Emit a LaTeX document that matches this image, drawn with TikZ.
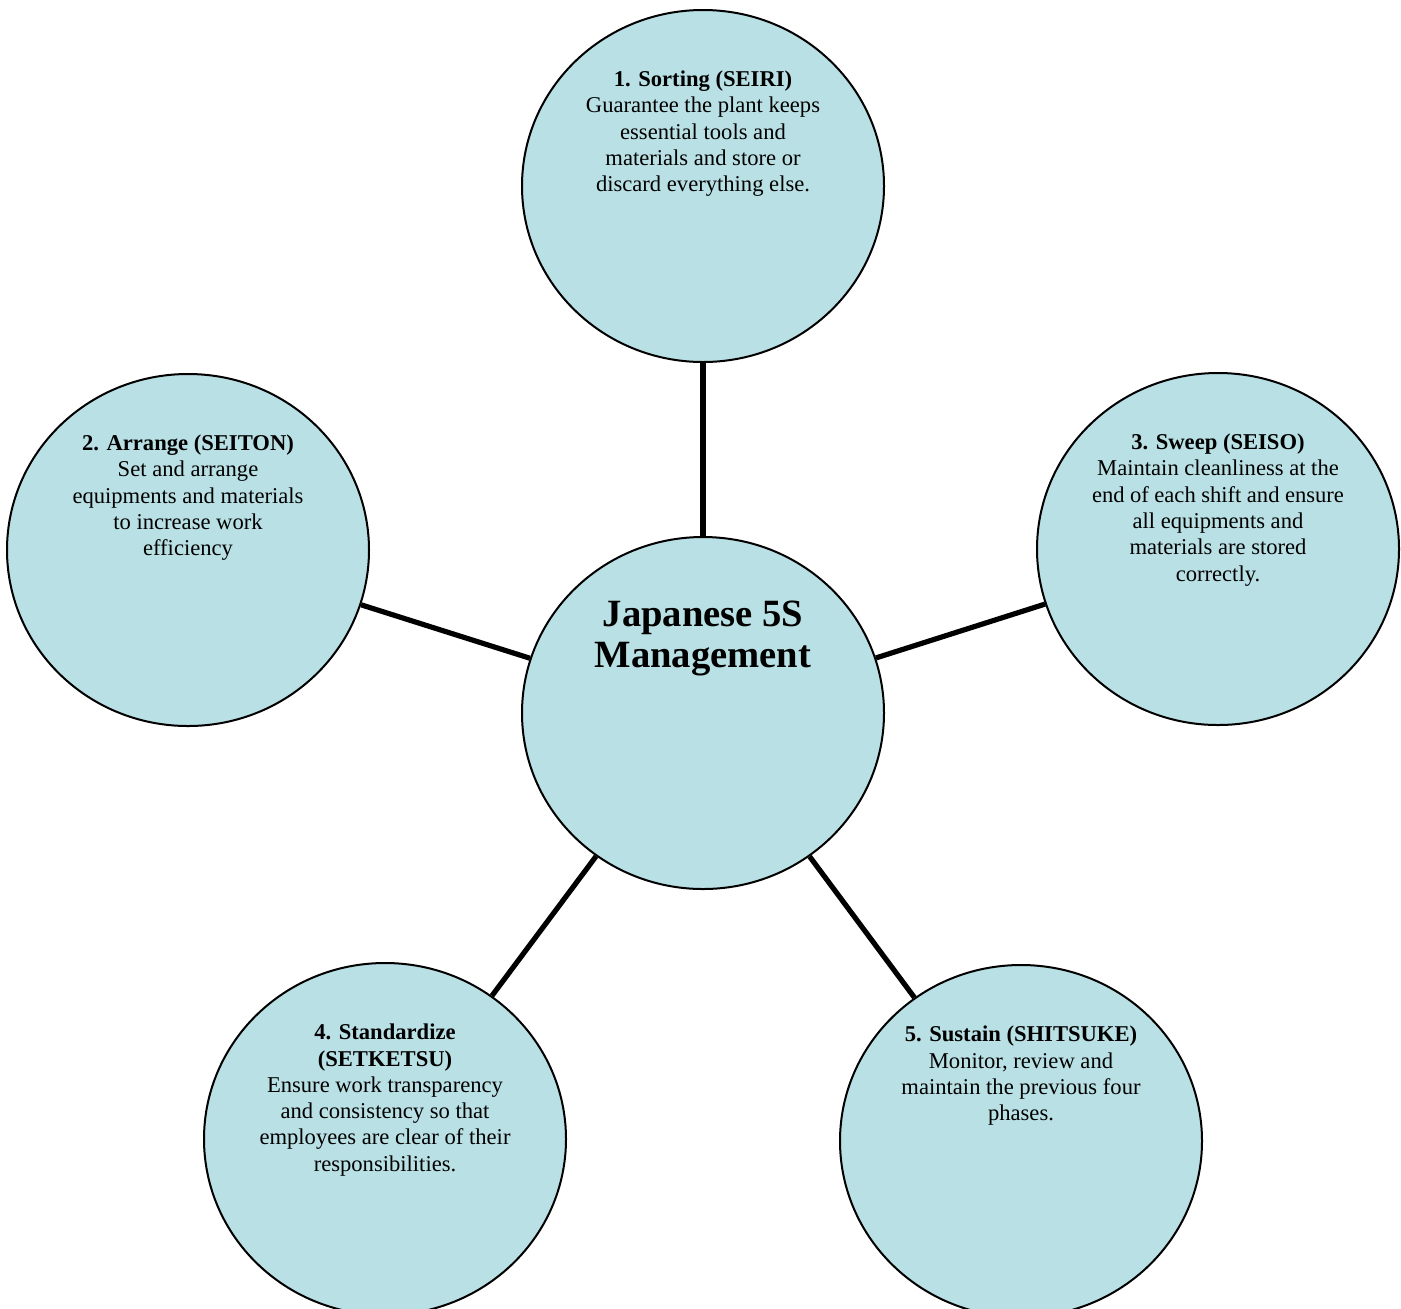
\documentclass[tikz,border=0pt]{standalone}
\usepackage{fontspec}
\setmainfont{Liberation Serif}
\usetikzlibrary{shapes.geometric}
\definecolor{bubblefill}{RGB}{185,224,228}
\tikzset{
  bubble/.style={ellipse, draw, line width=1pt, fill=bubblefill,
                 minimum width=181pt, minimum height=176pt, inner sep=0pt,
                 font=\fontsize{11.3}{13.15}\selectfont},
  core/.style={bubble, font=\fontsize{19.3}{20.5}\selectfont\bfseries},
  spoke/.style={line width=2.6pt},
}
\newcommand{\bubbletext}[1]{\parbox[c][115pt][t]{126pt}{\centering #1}}

\begin{document}
\begin{tikzpicture}[x=0.5pt, y=-0.5pt]
    \clip (0,0) rectangle (1401,1308);
    \node[core] (mgmt) at (703,713) {\bubbletext{\vspace*{1.5pt}Japanese 5S\\Management}};
    \node[bubble] (seiri) at (703,186) {\bubbletext{\textbf{1. Sorting (SEIRI)}\\
      Guarantee the plant keeps\\essential tools and\\materials and store or\\discard everything else.}};
    \node[bubble] (seiton) at (188,550) {\bubbletext{\textbf{2. Arrange (SEITON)}\\
      Set and arrange\\equipments and materials\\to increase work\\efficiency}};
    \node[bubble] (seiso) at (1218,549) {\bubbletext{\textbf{3. Sweep (SEISO)}\\
      Maintain cleanliness at the\\end of each shift and ensure\\all equipments and\\materials are stored\\correctly.}};
    \node[bubble] (seiketsu) at (385,1139) {\bubbletext{\textbf{4. Standardize}\\\textbf{(SETKETSU)}\\
      Ensure work transparency\\and consistency so that\\employees are clear of their\\responsibilities.}};
    \node[bubble] (shitsuke) at (1021,1141) {\bubbletext{\textbf{5. Sustain (SHITSUKE)}\\
      Monitor, review and\\maintain the previous four\\phases.}};
    \foreach \s in {seiri,seiton,seiso,seiketsu,shitsuke}
      \draw[spoke] (mgmt) -- (\s);
\end{tikzpicture}
\end{document}
